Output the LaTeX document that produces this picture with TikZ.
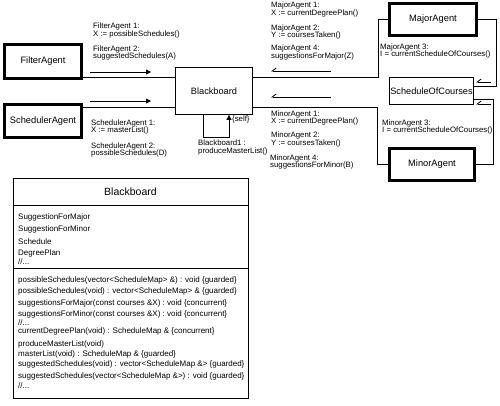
\documentclass[tikz,border=0pt]{standalone}
\usepackage{fontspec}
\setmainfont{Liberation Sans}
\usetikzlibrary{arrows.meta}
\begin{document}
\begin{tikzpicture}[x=1pt,y=-1pt,
  agent/.style={draw,line width=2.6pt,inner sep=0,font=\fontsize{9.3}{11}\selectfont},
  plainbox/.style={draw,line width=0.8pt,inner sep=0,font=\fontsize{9.2}{11}\selectfont},
  lbl/.style={anchor=north west,inner sep=0,align=left,font=\fontsize{7.8}{7.3}\selectfont},
  conn/.style={line width=0.8pt},
  msg/.style={line width=0.8pt,-{Triangle[length=5pt,width=5pt]}},
  back/.style={line width=0.8pt,-{Straight Barb[harpoon,swap,length=4pt,width=6pt]}},
  clstxt/.style={anchor=base west,inner sep=0,font=\fontsize{8}{10}\selectfont}
]
\useasboundingbox (0,0) rectangle (500,405);
% agents
\node[agent,minimum width=77.4pt,minimum height=34.4pt] (fa) at (43,61.5) {FilterAgent};
\node[agent,minimum width=77.4pt,minimum height=33.4pt] (sa) at (43,121) {SchedulerAgent};
\node[agent,minimum width=87.4pt,minimum height=32.4pt] (ma) at (433,19.5) {MajorAgent};
\node[agent,minimum width=85.4pt,minimum height=32.4pt] (mi) at (432,164.5) {MinorAgent};
\node[plainbox,minimum width=77pt,minimum height=47pt] (bb) at (214,91) {Blackboard};
\node[plainbox,minimum width=84pt,minimum height=27pt] (soc) at (431.5,91) {ScheduleOfCourses};
% connectors
\draw[conn] (fa.east |- 0,77) -- (bb.west |- 0,77);
\draw[conn] (sa.east |- 0,107) -- (bb.west |- 0,107);
\draw[conn] (bb.east |- 0,77) -- (378,77) |- (ma.west);
\draw[conn] (ma.east) -| (496,86) -- (soc.east |- 0,86);
\draw[conn] (soc.east |- 0,99) -- (493,99) |- (mi.east);
\draw[conn] (bb.east |- 0,107) -- (377,107) |- (mi.west);
\draw[msg] (bb.south -| 203,0) |- (229,137) -- (bb.south -| 229,0);
% message arrows
\draw[msg] (90,72) -- (151,72);
\draw[msg] (90,101) -- (151,101);
\draw[back] (331,71) -- (271,71);
\draw[back] (331,97) -- (271,97);
\draw[back] (491,82) -- (476,82);
\draw[back] (491,104) -- (476,104);
% labels (north west = top of first line)
\node[lbl] (l1) at (93,23) {FilterAgent 1:\\X := possibleSchedules()};
\node[lbl] (l2) at (93,45.5) {FilterAgent 2:\\suggestedSchedules(A)};
\node[lbl] (l3) at (91,119.5) {SchedulerAgent 1:\\X := masterList()};
\node[lbl] (l4) at (91,142.5) {SchedulerAgent 2:\\possibleSchedules(D)};
\node[lbl] (l5) at (271,2) {MajorAgent 1:\\X := currentDegreePlan()};
\node[lbl] (l6) at (271,24.5) {MajorAgent 2:\\Y := coursesTaken()};
\node[lbl] (l7) at (271,45) {MajorAgent 4:\\suggestionsForMajor(Z)};
\node[lbl] (l8) at (380,43.5) {MajorAgent 3:\\I = currentScheduleOfCourses()};
\node[lbl] (l9) at (271,110.5) {MinorAgent 1:\\X := currentDegreePlan()};
\node[lbl] (l10) at (271,132) {MinorAgent 2:\\Y := coursesTaken()};
\node[lbl] (l11) at (270,154.5) {MinorAgent 4:\\suggestionsForMinor(B)};
\node[lbl] (l12) at (382,119.5) {MinorAgent 3:\\I = currentScheduleOfCourses()};
\node[lbl] (l13) at (232,116) {\{self\}};
\node[lbl] (l14) at (198,140) {Blackboard1 :\\produceMasterList()};
% class box
\node[draw,line width=0.8pt,minimum width=235pt,minimum height=220pt,inner sep=0] (cls) at (130.5,288) {};
\node[inner sep=0,font=\fontsize{10.5}{12}\selectfont] (ctitle) at (130.5,192) {Blackboard};
\draw[conn] (cls.west |- 0,205) -- (cls.east |- 0,205);
\draw[conn] (cls.west |- 0,268) -- (cls.east |- 0,268);
\node[clstxt] (a1) at (18,219) {SuggestionForMajor};
\node[clstxt] (a2) at (18,231) {SuggestionForMinor};
\node[clstxt] (a3) at (18,244) {Schedule};
\node[clstxt] (a4) at (18,255) {DegreePlan};
\node[clstxt] (a5) at (18,264) {//...};
\node[clstxt] (m1) at (18,282) {possibleSchedules(vector<ScheduleMap> \&) : void \{guarded\}};
\node[clstxt] (m2) at (18,293) {possibleSchedules(void) : vector<ScheduleMap> \& \{guarded\}};
\node[clstxt] (m3) at (18,305) {suggestionsForMajor(const courses \&X) : void \{concurrent\}};
\node[clstxt] (m4) at (18,316) {suggestionsForMinor(const courses \&X) : void \{concurrent\}};
\node[clstxt] (m5) at (18,325) {//...};
\node[clstxt] (m6) at (18,333) {currentDegreePlan(void) : ScheduleMap \& \{concurrent\}};
\node[clstxt] (m7) at (18,346) {produceMasterList(void)};
\node[clstxt] (m8) at (18,356) {masterList(void) : ScheduleMap \& \{guarded\}};
\node[clstxt] (m9) at (18,366) {suggestedSchedules(void) : vector<ScheduleMap \&> \{guarded\}};
\node[clstxt] (m10) at (18,378) {suggestedSchedules(vector<ScheduleMap \&>) : void \{guarded\}};
\node[clstxt] (m11) at (18,388) {//...};
\end{tikzpicture}
\end{document}
